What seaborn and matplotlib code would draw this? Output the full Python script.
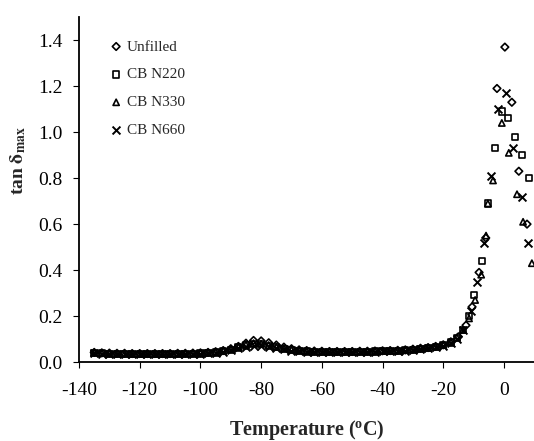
import numpy as np
import pandas as pd
import matplotlib
matplotlib.use("Agg")
import matplotlib.pyplot as plt
import seaborn as sns

# low-temperature region, same temperature grid for all four compounds
t_low = [-135, -132.5, -130, -127.5, -125, -122.5, -120, -117.5, -115, -112.5,
         -110, -107.5, -105, -102.5, -100, -97.5, -95, -92.5, -90, -87.5,
         -85, -82.5, -80, -77.5, -75, -72.5, -70, -67.5, -65, -62.5,
         -60, -57.5, -55, -52.5, -50, -47.5, -45, -42.5, -40, -37.5,
         -35, -32.5, -30, -27.5]

unf_low = [0.042, 0.040, 0.039, 0.038, 0.038, 0.037, 0.037, 0.037, 0.037, 0.037,
           0.037, 0.038, 0.038, 0.039, 0.040, 0.042, 0.045, 0.050, 0.058, 0.068,
           0.082, 0.094, 0.092, 0.084, 0.074, 0.065, 0.058, 0.053, 0.050, 0.048,
           0.047, 0.046, 0.046, 0.046, 0.046, 0.047, 0.047, 0.048, 0.049, 0.050,
           0.051, 0.053, 0.056, 0.060]
n220_low = [0.040, 0.038, 0.036, 0.035, 0.035, 0.034, 0.034, 0.034, 0.034, 0.034,
            0.035, 0.035, 0.036, 0.036, 0.037, 0.039, 0.042, 0.047, 0.054, 0.063,
            0.072, 0.078, 0.077, 0.071, 0.064, 0.057, 0.052, 0.048, 0.046, 0.045,
            0.044, 0.044, 0.044, 0.044, 0.044, 0.045, 0.045, 0.046, 0.047, 0.048,
            0.049, 0.051, 0.054, 0.058]
n330_low = [0.041, 0.039, 0.037, 0.036, 0.036, 0.035, 0.035, 0.035, 0.035, 0.035,
            0.036, 0.036, 0.037, 0.038, 0.039, 0.041, 0.044, 0.049, 0.056, 0.066,
            0.076, 0.082, 0.080, 0.074, 0.066, 0.059, 0.054, 0.050, 0.048, 0.046,
            0.045, 0.045, 0.045, 0.045, 0.045, 0.046, 0.046, 0.047, 0.048, 0.049,
            0.050, 0.052, 0.055, 0.059]
n660_low = [0.039, 0.037, 0.036, 0.035, 0.034, 0.034, 0.033, 0.033, 0.033, 0.034,
            0.034, 0.035, 0.035, 0.036, 0.037, 0.038, 0.041, 0.045, 0.051, 0.059,
            0.067, 0.072, 0.071, 0.066, 0.060, 0.055, 0.050, 0.047, 0.045, 0.044,
            0.043, 0.043, 0.043, 0.043, 0.044, 0.044, 0.045, 0.045, 0.046, 0.047,
            0.048, 0.050, 0.053, 0.057]

# glass transition region
unf_t = [-25, -22.5, -20, -17.5, -15, -12.5, -10.5, -8.2, -6, -2.3, 0.3, 2.6, 4.9, 7.6]
unf_v = [0.063, 0.068, 0.075, 0.088, 0.11, 0.16, 0.24, 0.39, 0.54, 1.19, 1.37, 1.13, 0.83, 0.60]

n220_t = [-25, -22.5, -20, -17.5, -15.5, -13.5, -11.5, -9.9, -7.2, -5.3, -3.0, -0.7, 1.3, 3.6, 5.9, 8.2]
n220_v = [0.061, 0.066, 0.073, 0.085, 0.105, 0.14, 0.20, 0.29, 0.44, 0.69, 0.93, 1.09, 1.06, 0.98, 0.90, 0.80]

n330_t = [-25, -22.5, -20, -17.5, -15.5, -13.5, -11.5, -9.5, -7.5, -5.9, -5.3, -3.6, -0.7, 1.6, 4.3, 6.3, 9.2]
n330_v = [0.062, 0.067, 0.074, 0.087, 0.107, 0.14, 0.19, 0.27, 0.38, 0.55, 0.69, 0.79, 1.04, 0.91, 0.73, 0.61, 0.43]

n660_t = [-25, -22.5, -20, -17.5, -15.5, -13.5, -11, -8.9, -6.6, -4.3, -2.0, 0.6, 2.9, 5.9, 7.9]
n660_v = [0.060, 0.065, 0.072, 0.083, 0.10, 0.14, 0.22, 0.35, 0.52, 0.81, 1.10, 1.17, 0.93, 0.72, 0.52]

labels = ["Unfilled", "CB N220", "CB N330", "CB N660"]

frames = []
for lab, lo, t, v in zip(labels,
                         [unf_low, n220_low, n330_low, n660_low],
                         [unf_t, n220_t, n330_t, n660_t],
                         [unf_v, n220_v, n330_v, n660_v]):
    frames.append(pd.DataFrame({"Temperature": t_low + t, "tan": lo + v, "Sample": lab}))
df = pd.concat(frames, ignore_index=True)

sns.set_theme(style="ticks")
plt.rcParams['font.family'] = ['Liberation Serif', 'DejaVu Serif']
plt.rcParams['mathtext.fontset'] = 'stix'
plt.rcParams['axes.unicode_minus'] = False

fig = plt.figure(figsize=(5.34, 4.41), dpi=100)
ax = fig.add_axes([0.148, 0.179, 0.852, 0.782])

styles = {
    "Unfilled": dict(marker="D", s=15, facecolor="none", edgecolor="black", linewidth=1.2),
    "CB N220": dict(marker="s", s=20, facecolor="none", edgecolor="black", linewidth=1.2),
    "CB N330": dict(marker="^", s=20, facecolor="none", edgecolor="black", linewidth=1.2),
    "CB N660": dict(marker="x", s=32, color="black", linewidth=1.4),
}
for lab in labels:
    sub = df[df["Sample"] == lab]
    sns.scatterplot(data=sub, x="Temperature", y="tan", ax=ax, label=lab, **styles[lab])

ax.set_xlim(-140, 9.9)
ax.set_ylim(0, 1.5)
ax.set_xticks(range(-140, 1, 20))
ax.set_yticks(np.arange(0, 1.41, 0.2))
ax.yaxis.set_major_formatter(matplotlib.ticker.FormatStrFormatter('%.1f'))
ax.tick_params(axis='both', labelsize=14, length=4, width=0.8, color='black', labelcolor='black')
ax.tick_params(axis='x', pad=10)
ax.tick_params(axis='y', pad=8)
for sp in ['top', 'right']:
    ax.spines[sp].set_visible(False)
for sp in ['left', 'bottom']:
    ax.spines[sp].set_linewidth(1.3)
    ax.spines[sp].set_color('black')

ax.set_xlabel(r'Temperature ($\mathregular{^{o}}$C)', fontsize=14.5, fontweight='bold', labelpad=14)
ax.set_ylabel(r'tan $\mathbf{\delta_{max}}$', fontsize=14, fontweight='bold')
ax.yaxis.set_label_coords(-0.113, 0.585)

ax.legend(loc='upper left', bbox_to_anchor=(0.048, 0.961), frameon=False, fontsize=11,
          labelspacing=0.93, handlelength=0.8, handletextpad=0.3, markerscale=1.0,
          borderaxespad=0.2)

fig.savefig("out.png", dpi=100)
